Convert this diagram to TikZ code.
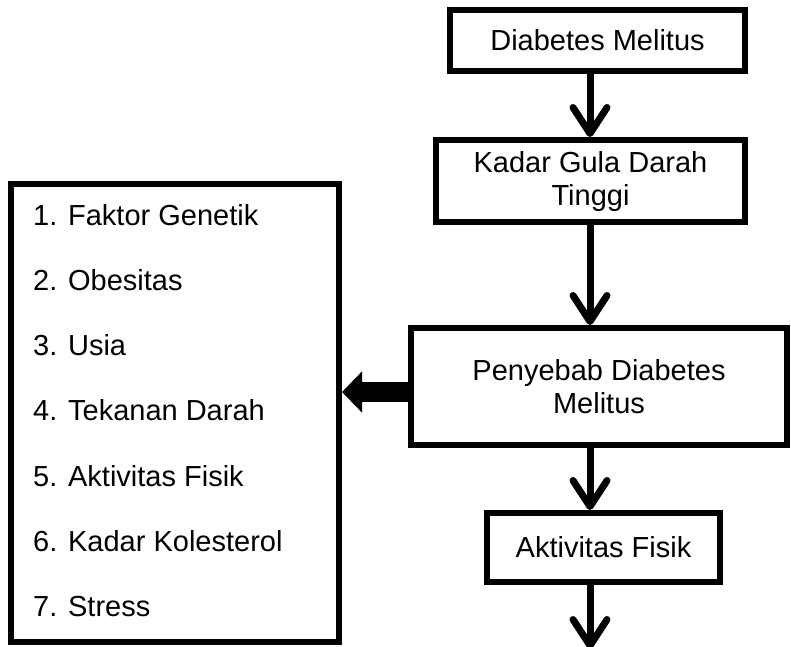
\documentclass[tikz,border=0pt]{standalone}
\usepackage{fontspec}
\setmainfont{Liberation Sans}
\usetikzlibrary{arrows.meta}
\begin{document}
\begin{tikzpicture}[x=1pt,y=-1pt,
  box/.style={draw, line width=6pt, outer sep=0pt, inner sep=0pt, align=center,
    font=\fontsize{29}{33}\selectfont},
  varrow/.style={line width=7pt, shorten >=3pt,
    -{Straight Barb[length=26pt,width=34pt,round]}},
  blockarrow/.style={line width=20pt, shorten >=3.5pt,
    -{Triangle[length=20pt,width=40pt]}},
  item/.style={anchor=base west, inner sep=0pt, font=\fontsize{29}{33}\selectfont}]
\useasboundingbox (0,0) rectangle (791,646);

\node[box, minimum width=295pt, minimum height=61pt] (b1) at (597.5,40.5) {Diabetes Melitus};
\node[box, minimum width=309pt, minimum height=82pt] (b2) at (590.5,181) {Kadar Gula Darah\\Tinggi};
\node[box, minimum width=376pt, minimum height=117pt] (b3) at (599,386.5) {Penyebab Diabetes\\Melitus};
\node[box, minimum width=233pt, minimum height=69pt] (b4) at (603.5,547.5) {Aktivitas Fisik};
\node[box, minimum width=327.5pt, minimum height=458pt] (list) at (174.75,413) {};

\node[item] (i1) at (33,225) {1. Faktor Genetik};
\node[item] (i2) at (33,290.3) {2. Obesitas};
\node[item] (i3) at (33,355.6) {3. Usia};
\node[item] (i4) at (33,420.9) {4. Tekanan Darah};
\node[item] (i5) at (33,486.2) {5. Aktivitas Fisik};
\node[item] (i6) at (33,551.5) {6. Kadar Kolesterol};
\node[item] (i7) at (33,616.8) {7. Stress};

\coordinate (ax) at (590,0);
\coordinate (end) at (590,652);
\draw[varrow] (b1.south -| ax) -- (b2.north -| ax);
\draw[varrow] (b2.south -| ax) -- (b3.north -| ax);
\draw[varrow] (b3.south -| ax) -- (b4.north -| ax);
\draw[varrow] (b4.south -| ax) -- (end);

\coordinate (bs) at ([yshift=-5.5pt]b3.west);
\draw[blockarrow] (bs) -- (bs -| list.east);
\end{tikzpicture}
\end{document}
